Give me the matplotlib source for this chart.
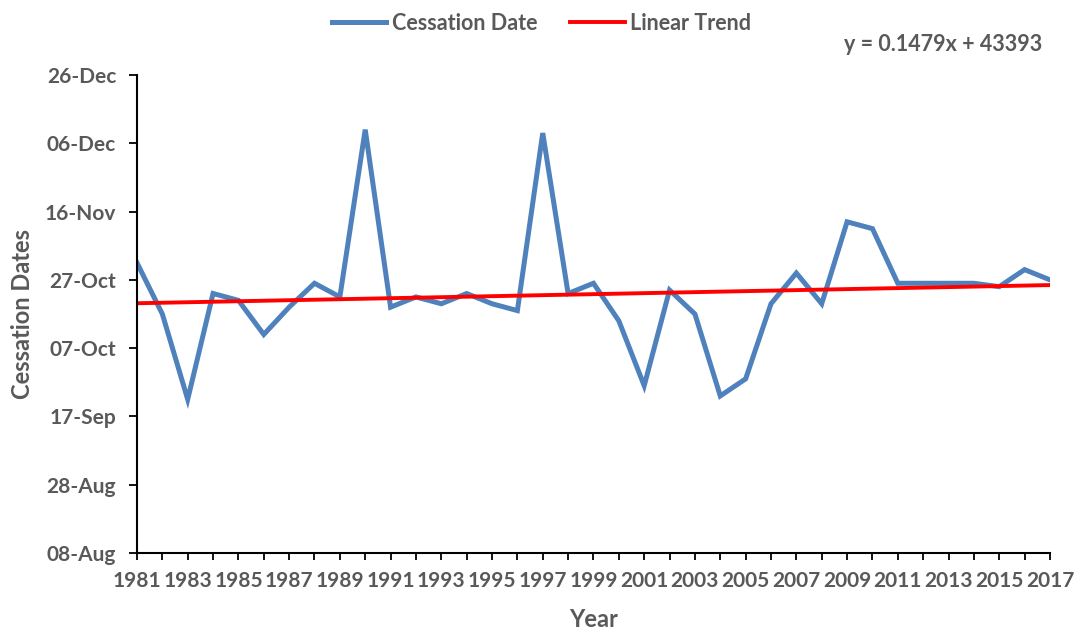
import pandas as pd
import numpy as np
import matplotlib
matplotlib.use("Agg")
import matplotlib.pyplot as plt
import matplotlib.dates as mdates

plt.rcParams['font.family'] = ['Lato', 'DejaVu Sans']
plt.rcParams['font.weight'] = 'bold'

# cessation dates per year (plotted on a 2018 calendar, as in the original sheet)
years = list(range(1981, 2018))
cessation = [
    '11-01', '10-17', '09-22', '10-23', '10-21', '10-11', '10-19', '10-26',
    '10-22', '12-10', '10-19', '10-22', '10-20', '10-23', '10-20', '10-18',
    '12-09', '10-23', '10-26', '10-15', '09-26', '10-24', '10-17', '09-23',
    '09-28', '10-20', '10-29', '10-20', '11-13', '11-11', '10-26', '10-26',
    '10-26', '10-26', '10-25', '10-30', '10-27',
]

# Excel trend line: y = slope * x + intercept (x = 1..n, y = Excel date serial)
slope = 0.1479
intercept = 43393
equation = 'y = 0.1479x + 43393'

y_ticks = ['2018-08-08', '2018-08-28', '2018-09-17', '2018-10-07',
           '2018-10-27', '2018-11-16', '2018-12-06', '2018-12-26']

dates = pd.to_datetime(['2018-' + d for d in cessation])
idx = np.arange(1, len(years) + 1)
trend = pd.Timestamp('1899-12-30') + pd.to_timedelta(intercept + slope * idx, unit='D')

grey = '#595959'

fig = plt.figure(figsize=(10.76, 6.33), dpi=100)
ax = fig.add_axes([0.1273, 0.1264, 0.8485, 0.7551])

ax.plot(years, dates, color='#4F81BD', lw=3.6, label='Cessation Date', solid_joinstyle='miter')
ax.plot(years, trend, color='#FF0000', lw=2.8, label='Linear Trend')

ax.set_xlim(years[0], years[-1])
ax.set_ylim(pd.Timestamp(y_ticks[0]), pd.Timestamp(y_ticks[-1]))
ax.set_yticks(pd.to_datetime(y_ticks))
ax.yaxis.set_major_formatter(mdates.DateFormatter('%d-%b'))
ax.set_xticks(years)
ax.set_xticklabels([str(y) if (y - years[0]) % 2 == 0 else '' for y in years])

for s in ['top', 'right']:
    ax.spines[s].set_visible(False)
for s in ['left', 'bottom']:
    ax.spines[s].set_linewidth(1.5)

ax.tick_params(axis='both', colors='black', width=1.3, labelsize=15, labelcolor=grey)
ax.tick_params(axis='y', length=6, pad=9)
ax.tick_params(axis='x', length=5, pad=8)
for lab in ax.get_xticklabels() + ax.get_yticklabels():
    lab.set_fontweight('bold')

ax.set_xlabel('Year', fontsize=17, color=grey, fontweight='bold', labelpad=12)
ax.set_ylabel('Cessation Dates', fontsize=17, color=grey, fontweight='bold', labelpad=8)

fig.legend(loc='center', bbox_to_anchor=(0.503, 0.963), ncol=2, frameon=False,
           handlelength=2.55, handletextpad=0.25, columnspacing=1.5,
           labelcolor=grey, prop={'weight': 'bold', 'size': 15.5})

fig.text(0.969, 0.93, equation, ha='right', va='center', fontsize=15.5,
         color=grey, fontweight='bold')

fig.savefig('out.png', dpi=100)
